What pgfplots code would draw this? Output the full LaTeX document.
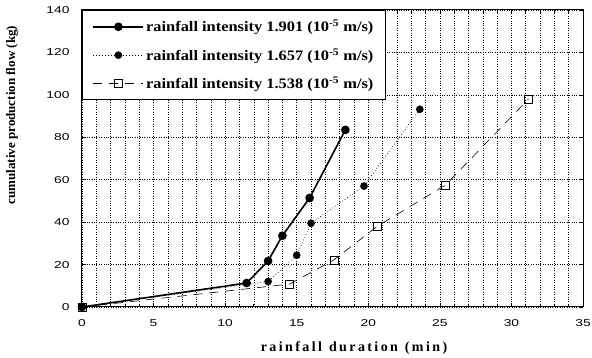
\documentclass[border=0pt]{standalone}
\usepackage{fontspec}
\setmainfont{Liberation Serif}
\newfontfamily\arial{Liberation Sans}
\usepackage{graphicx}
\usepackage{pgfplots}
\pgfplotsset{compat=1.18}
\newcommand\ls{\kern2.4pt}
\newcommand\leg[1]{\scalebox{1.13}[1]{#1}}
\begin{document}
\begin{tikzpicture}
\useasboundingbox (-82pt,-51pt) rectangle (510pt,307pt);
\begin{axis}[
  scale only axis, width=501pt, height=297pt,
  xmin=0, xmax=35, ymin=0, ymax=140,
  xtick={0,5,...,35}, ytick={0,20,...,140},
  minor x tick num=4,
  grid=both,
  major grid style={black, line width=0.5pt, dash pattern=on 0.8pt off 1.6pt},
  minor grid style={black, line width=0.5pt, dash pattern=on 0.8pt off 1.6pt},
  tick align=inside, major tick length=4pt, minor tick length=3pt,
  tick style={black, line width=0.6pt},
  axis line style={line width=1pt},
  ticklabel style={font=\arial\fontsize{10}{12}\selectfont},
  xticklabel={\scalebox{1.38}[1]{\pgfmathprintnumber{\tick}}},
  yticklabel={\scalebox{1.38}[1]{\pgfmathprintnumber{\tick}}},
  yticklabel style={xshift=-9pt},
  xticklabel style={yshift=-9pt},
  /pgf/number format/assume math mode=true,
  xlabel={\bfseries r\ls a\ls i\ls n\ls f\ls a\ls l\ls l\ \ d\ls u\ls r\ls a\ls t\ls i\ls o\ls n\ \ (\ls m\ls i\ls n\ls )},
  every axis x label/.style={at={(rel axis cs:0.543,0)}, anchor=base, yshift=-45pt, font=\fontsize{14}{16}\selectfont},
  ylabel={\bfseries cumulative production flow (kg)},
  every axis y label/.style={at={(rel axis cs:-0.1397,0.646)}, anchor=center, rotate=90, font=\fontsize{13}{15}\selectfont},
  legend style={at={(rel axis cs:0,1)}, anchor=north west, draw=black, line width=1.2pt, fill=white,
     font=\bfseries\fontsize{14.5}{16}\selectfont, row sep=11pt, inner xsep=10pt, inner ysep=7.5pt},
  legend cell align=left,
  legend image code/.code={\draw[mark repeat=2,mark phase=2] plot coordinates {(0pt,0pt) (25pt,0pt) (50pt,0pt)};},
]
\addplot[black, line width=1.6pt, mark=*, mark size=3.5pt, mark options={solid}] coordinates {
 (0,0) (11.5,11.3) (13.0,21.7) (14.0,33.6) (15.9,51.4) (18.4,83.5)};
\addlegendentry{\leg{rainfall intensity 1.901 (10\textsuperscript{-5} m/s)}}
\addplot[black, line width=0.6pt, dash pattern=on 0.8pt off 2.2pt, mark=*, mark size=3.5pt, mark options={solid}] coordinates {
 (0,0) (13.0,12.0) (15.0,24.4) (16.0,39.5) (19.7,57.0) (23.6,93.2)};
\addlegendentry{\leg{rainfall intensity 1.657 (10\textsuperscript{-5} m/s)}}
\addplot[black, line width=0.6pt, dash pattern=on 9pt off 7pt, mark=square, mark size=4pt, mark options={solid, fill=white, line width=0.6pt}] coordinates {
 (0,0) (14.5,10.8) (17.6,22.2) (20.6,37.9) (25.4,57.5) (31.2,98.1)};
\addlegendentry{\leg{rainfall intensity 1.538 (10\textsuperscript{-5} m/s)}}
\end{axis}
\end{tikzpicture}
\end{document}
